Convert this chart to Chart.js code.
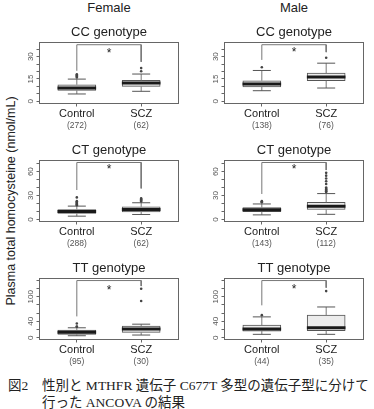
<!DOCTYPE html>
<html>
<head>
<meta charset="utf-8">
<script src="https://cdn.jsdelivr.net/npm/chart.js@4.4.0/dist/chart.umd.min.js"></script>
<style>
body { margin: 0; background: #fff; }
#fig { position: relative; width: 374px; height: 409px; overflow: hidden; font-family: "Liberation Sans", Arial, sans-serif; color: #222; }
#fig canvas { position: absolute; }
.hd { position: absolute; font-size: 13px; transform: translate(-50%, -50%); white-space: nowrap; }
.ytitle { position: absolute; left: 11px; top: 201px; font-size: 12.5px; white-space: nowrap; transform: translate(-50%, -50%) rotate(-90deg); }
.cap { position: absolute; font-family: "Liberation Serif", "Noto Sans CJK JP", serif; font-size: 13.5px; white-space: nowrap; color: #222; }
</style>
</head>
<body>
<div id="fig">
  <div class="hd" style="left:109px;top:7px">Female</div>
  <div class="hd" style="left:294px;top:7px">Male</div>
  <div class="ytitle">Plasma total homocysteine (nmol/mL)</div>
  <canvas id="fCC" width="187" height="118" style="left:0;top:18px"></canvas>
  <canvas id="mCC" width="187" height="118" style="left:187px;top:18px"></canvas>
  <canvas id="fCT" width="187" height="118" style="left:0;top:136px"></canvas>
  <canvas id="mCT" width="187" height="118" style="left:187px;top:136px"></canvas>
  <canvas id="fTT" width="187" height="118" style="left:0;top:254px"></canvas>
  <canvas id="mTT" width="187" height="118" style="left:187px;top:254px"></canvas>
  <div class="cap" style="left:8px;top:374px">図2</div>
  <div class="cap" style="left:42px;top:374px">性別と MTHFR 遺伝子 C677T 多型の遺伝子型に分けて</div>
  <div class="cap" style="left:42px;top:391px">行った ANCOVA の結果</div>
</div>
<script>
const groups = ['Control', 'SCZ'];

// each box: [lower whisker, q1, median, q3, upper whisker]
// sig: [bracket left end, bracket top, bracket right end, star]
const fCC_n = [272, 62];
const fCC_box = [[4.9, 7.3, 8.9, 11.1, 14.9], [6.7, 10, 12.3, 14, 18.3]];
const fCC_out = [[16, 16.8, 17.5, 18.2], [20.2, 22.3]];
const fCC_sig = [20.5, 38, 26.5, 34];

const mCC_n = [138, 76];
const mCC_box = [[7.1, 9.6, 11.6, 13.8, 20.7], [8.9, 13.8, 16.3, 18.9, 25.6]];
const mCC_out = [[22.9], [29.3]];
const mCC_sig = [27.8, 38, 33, 35];

const fCT_n = [288, 62];
const fCT_box = [[4.2, 7.6, 10, 12.6, 16.8], [6.3, 9.6, 12.6, 15.9, 21]];
const fCT_out = [[18, 19, 20, 21, 22, 23, 27.7], [22.5, 24, 25.5, 26.5]];
const fCT_sig = [37, 71.5, 39, 66];

const mCT_n = [143, 112];
const mCT_box = [[5.8, 9.8, 12.3, 15, 19.5], [6.5, 12.5, 16.5, 21.5, 32.5]];
const mCT_out = [[21.5, 22.3, 23], [34.5, 35.5, 36.5, 37.5, 38.5, 40, 44.5, 48, 51.5, 55, 58.5]];
const mCT_sig = [32, 71.5, 62, 66];

const fTT_n = [95, 30];
const fTT_box = [[4.8, 8.2, 13, 18.6, 24.2], [6.5, 13, 21, 28.3, 33]];
const fTT_out = [[26.6, 27.5, 34.8], [89.6, 119.6]];
const fTT_sig = [52, 139.5, 126, 123];

const mTT_n = [44, 35];
const mTT_box = [[8.2, 16.2, 21, 30.7, 50.8], [8.2, 17, 24.2, 55, 75]];
const mTT_out = [[55], [113.8]];
const mTT_sig = [79, 139.5, 122, 124];

const ccRange = [-1.5, 39.5];
const ccTicks = [0, 5, 10, 15, 20, 25, 30, 35];
const ccTickLabels = [0, 15, 30];
const ctRange = [-2.5, 74];
const ctTicks = [0, 10, 20, 30, 40, 50, 60, 70];
const ctTickLabels = [0, 30, 60];
const ttRange = [-4.4, 144.5];
const ttTicks = [0, 20, 40, 60, 80, 100, 120, 140];
const ttTickLabels = [0, 40, 100];

const FONT = '"Liberation Sans", Arial, sans-serif';

const panelText = {
    id: 'panelText',
    afterDraw(chart, args, o) {
        const ctx = chart.ctx, a = chart.chartArea;
        const x = chart.scales.x, y = chart.scales.y;
        ctx.save();
        ctx.strokeStyle = '#666';
        ctx.lineWidth = 1;
        ctx.strokeRect(a.left, a.top, a.right - a.left, a.bottom - a.top);
        ctx.textAlign = 'center';
        ctx.textBaseline = 'middle';
        ctx.fillStyle = '#222';
        ctx.font = '13px ' + FONT;
        ctx.fillText(o.title, (a.left + a.right) / 2, 14);
        ctx.font = '11px ' + FONT;
        groups.forEach((g, i) => ctx.fillText(g, x.getPixelForValue(i + 1), 96));
        ctx.fillStyle = '#555';
        ctx.font = '8.5px ' + FONT;
        o.n.forEach((n, i) => ctx.fillText('(' + n + ')', x.getPixelForValue(i + 1), 108));
        ctx.font = '8px ' + FONT;
        o.labels.forEach(v => {
            ctx.save();
            ctx.translate(a.left - 9, y.getPixelForValue(v));
            ctx.rotate(-Math.PI / 2);
            ctx.fillText(String(v), 0, 0);
            ctx.restore();
        });
        ctx.fillStyle = '#222';
        ctx.font = '12px ' + FONT;
        ctx.fillText('*', x.getPixelForValue(1.5), y.getPixelForValue(o.star) + 3);
        ctx.restore();
    }
};

function drawPanel(id, side, title, n, box, out, sig, range, ticks, labels) {
    let boxes = [], whisk = [], caps = [], meds = [], pts = [];
    box.forEach((b, i) => {
        let x = i + 1;
        boxes.push({x: x, y: [b[1], b[3]]});
        whisk.push({x: x, y: b[0]}, {x: x, y: b[1]}, {x: x, y: null},
                   {x: x, y: b[3]}, {x: x, y: b[4]}, {x: x, y: null});
        caps.push({x: x - 0.14, y: b[0]}, {x: x + 0.14, y: b[0]}, {x: x + 0.14, y: null},
                  {x: x - 0.14, y: b[4]}, {x: x + 0.14, y: b[4]}, {x: x + 0.14, y: null});
        meds.push({x: x - 0.3, y: b[2]}, {x: x + 0.3, y: b[2]}, {x: x + 0.3, y: null});
        out[i].forEach(v => pts.push({x: x, y: v}));
    });
    let bracket = [{x: 1, y: sig[0]}, {x: 1, y: sig[1]}, {x: 2, y: sig[1]}, {x: 2, y: sig[2]}];
    let lineDs = (data, color, w, order) => ({
        type: 'line', data: data, borderColor: color, borderWidth: w,
        pointRadius: 0, tension: 0, fill: false, spanGaps: false, order: order
    });

    const config = {
        type: 'bar',
        data: {
            datasets: [
                {data: boxes, backgroundColor: '#ececec', borderColor: '#555', borderWidth: 1,
                 borderSkipped: false, barThickness: 38, order: 5},
                lineDs(whisk, '#777', 1, 4),
                lineDs(caps, '#555', 1, 3),
                lineDs(meds, '#1a1a1a', 3, 1),
                lineDs(bracket, '#777', 1, 0),
                {type: 'line', data: pts, showLine: false, pointRadius: 1.3, pointBorderWidth: 0,
                 pointBackgroundColor: '#444', order: 2}
            ]
        },
        options: {
            responsive: false,
            animation: false,
            devicePixelRatio: 1,
            layout: {padding: {left: side === 'L' ? 35.5 : 33.5, right: side === 'L' ? 8.5 : 10.5, top: 24.5, bottom: 28.5}},
            plugins: {
                legend: {display: false},
                tooltip: {enabled: false},
                panelText: {title: title, n: n, labels: labels, star: sig[3]}
            },
            scales: {
                x: {
                    type: 'linear', min: 0.42, max: 2.58, offset: false,
                    afterBuildTicks: s => { s.ticks = [{value: 1}, {value: 2}]; },
                    afterFit: s => { s.height = 4; },
                    ticks: {display: false},
                    grid: {drawOnChartArea: false, drawTicks: true, tickLength: 3, color: '#666', offset: false},
                    border: {display: false}
                },
                y: {
                    min: range[0], max: range[1],
                    afterBuildTicks: s => { s.ticks = ticks.map(v => ({value: v})); },
                    afterFit: s => { s.width = 4; },
                    ticks: {display: false},
                    grid: {drawOnChartArea: false, drawTicks: true, tickLength: 3, color: '#666'},
                    border: {display: false}
                }
            }
        },
        plugins: [panelText]
    };
    let ctx = document.getElementById(id).getContext('2d');
    new Chart(ctx, config);
}

drawPanel('fCC', 'L', 'CC genotype', fCC_n, fCC_box, fCC_out, fCC_sig, ccRange, ccTicks, ccTickLabels);
drawPanel('mCC', 'R', 'CC genotype', mCC_n, mCC_box, mCC_out, mCC_sig, ccRange, ccTicks, ccTickLabels);
drawPanel('fCT', 'L', 'CT genotype', fCT_n, fCT_box, fCT_out, fCT_sig, ctRange, ctTicks, ctTickLabels);
drawPanel('mCT', 'R', 'CT genotype', mCT_n, mCT_box, mCT_out, mCT_sig, ctRange, ctTicks, ctTickLabels);
drawPanel('fTT', 'L', 'TT genotype', fTT_n, fTT_box, fTT_out, fTT_sig, ttRange, ttTicks, ttTickLabels);
drawPanel('mTT', 'R', 'TT genotype', mTT_n, mTT_box, mTT_out, mTT_sig, ttRange, ttTicks, ttTickLabels);
</script>
</body>
</html>
